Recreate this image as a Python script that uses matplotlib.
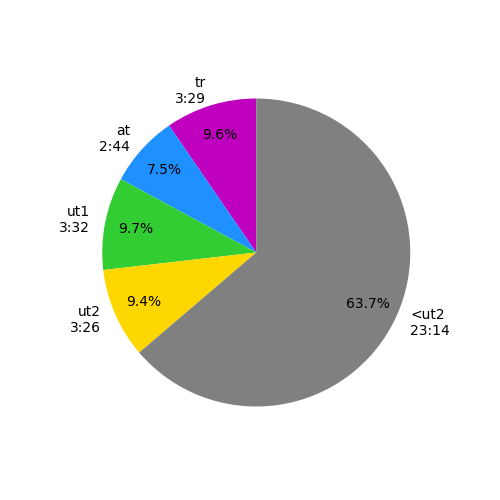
import matplotlib
matplotlib.use("Agg")
import matplotlib.pyplot as plt

names = ["tr", "at", "ut1", "ut2", "<ut2"]
times = ["3:29", "2:44", "3:32", "3:26", "23:14"]
seconds = [209.5, 164.5, 212.5, 206.5, 1394.2]
colors = ["#BF00BF", "dodgerblue", "limegreen", "gold", "gray"]

labels = [n + "\n" + t for n, t in zip(names, times)]

fig, ax = plt.subplots(figsize=(5, 5), dpi=100)
ax.pie(seconds, labels=labels, colors=colors, startangle=90,
       autopct="%1.1f%%", pctdistance=0.8)
fig.savefig("out.png", dpi=100)
